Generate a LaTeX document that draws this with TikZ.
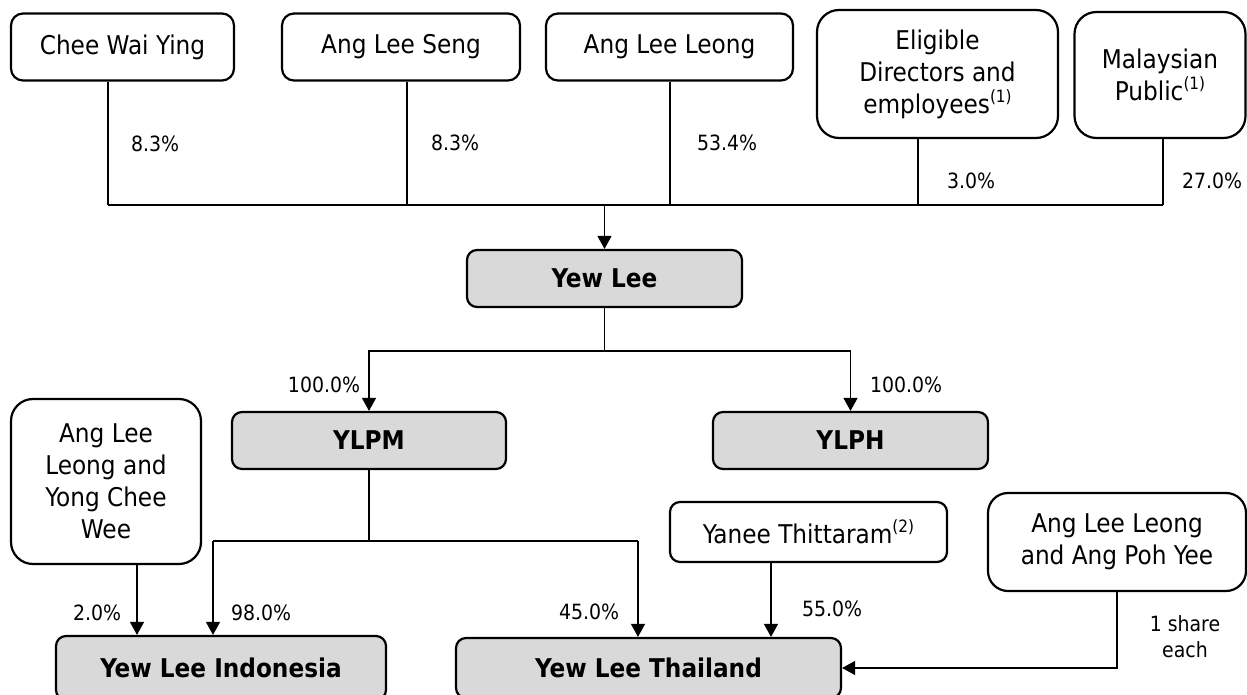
\documentclass[tikz,border=0pt]{standalone}
\usepackage{fontspec}
\setmainfont{DejaVu Sans Condensed}[BoldFont={DejaVu Sans Condensed Bold}]
\usetikzlibrary{arrows.meta}
\definecolor{boxgrey}{HTML}{D9D9D9}
\newcommand\supnote[1]{\raisebox{0.42em}{\fontsize{17}{17}\selectfont(#1)}}
\tikzset{
  namebox/.style={draw, line width=2.2pt, rounded corners=#1, align=center, inner sep=0pt,
    font=\fontsize{25.8}{32}\selectfont},
  namebox/.default=12pt,
  entbox/.style={draw, fill=boxgrey, line width=2.2pt, rounded corners=10pt, inner sep=0pt,
    font=\bfseries\fontsize{25.8}{32}\selectfont},
  conn/.style={line width=1.3pt},
  arr/.style={conn, -{Triangle[length=13pt,width=14pt]}},
  pct/.style={inner sep=0pt, align=center, font=\fontsize{21}{26}\selectfont},
}
\begin{document}
\begin{tikzpicture}[x=1pt,y=-1pt]
\useasboundingbox (0,0) rectangle (1247,695);

% top shareholders
\node[namebox, minimum width=223pt, minimum height=67pt] (cwy) at (122.5,47) {Chee Wai Ying};
\node[namebox, minimum width=238pt, minimum height=67pt] (als) at (401,47) {Ang Lee Seng};
\node[namebox, minimum width=247pt, minimum height=67pt] (all) at (669.5,47) {Ang Lee Leong};
\node[namebox=22pt, minimum width=241pt, minimum height=128pt] (edp) at (937.5,74) {Eligible\\Directors and\\employees\supnote{1}};
\node[namebox=22pt, minimum width=171pt, minimum height=126pt] (mp) at (1160,75) {Malaysian\\Public\supnote{1}};

% entities
\node[entbox, minimum width=275pt, minimum height=57pt] (yl) at (604.5,278.5) {Yew Lee};
\node[entbox, minimum width=274pt, minimum height=57pt] (ylpm) at (369,440.5) {YLPM};
\node[entbox, minimum width=275pt, minimum height=57pt] (ylph) at (850.5,440.5) {YLPH};
\node[entbox, minimum width=330pt, minimum height=64pt] (yli) at (221,668) {Yew Lee Indonesia};
\node[entbox, minimum width=385pt, minimum height=60pt] (ylt) at (648.5,668) {Yew Lee Thailand};

% lower shareholders
\node[namebox=22pt, minimum width=190pt, minimum height=165pt] (alyc) at (106,481.5) {Ang Lee\\Leong and\\Yong Chee\\Wee};
\node[namebox=10pt, minimum width=277pt, minimum height=60pt] (yt) at (808.5,532) {Yanee Thittaram\supnote{2}};
\node[namebox=20pt, minimum width=258pt, minimum height=98pt] (alpy) at (1117,542) {Ang Lee Leong\\and Ang Poh Yee};

% bus to Yew Lee
\coordinate (b1) at (108,205);
\coordinate (b2) at (407,205);
\coordinate (b3) at (670,205);
\coordinate (b4) at (918,205);
\coordinate (b5) at (1163,205);
\draw[conn] (cwy.south -| b1) -- (b1);
\draw[conn] (als.south -| b2) -- (b2);
\draw[conn] (all.south -| b3) -- (b3);
\draw[conn] (edp.south -| b4) -- (b4);
\draw[conn] (mp.south -| b5) -- (b5);
\draw[conn] (b1) -- (b5);
\draw[arr] (yl.north |- b1) -- (yl.north);

% Yew Lee to subsidiaries
\coordinate (j1) at (604.5,351);
\draw[conn] (yl.south) -- (j1);
\draw[arr] (j1) -| (ylpm.north);
\draw[arr] (j1) -| (ylph.north);

% YLPM to Indonesia / Thailand
\coordinate (j2) at (369,541);
\coordinate (ji) at (213,541);
\coordinate (jt) at (638,541);
\draw[conn] (ylpm.south) -- (j2);
\draw[conn] (ji) -- (jt);
\draw[arr] (ji) -- (yli.north -| ji);
\draw[arr] (jt) -- (ylt.north -| jt);

% minority holders
\coordinate (xa) at (137,0);
\coordinate (xy) at (771,0);
\draw[arr] (alyc.south -| xa) -- (yli.north -| xa);
\draw[arr] (yt.south -| xy) -- (ylt.north -| xy);
\draw[arr] (alpy.south) |- (ylt.east);

% labels
\node[pct] (p1) at (155,144) {8.3\%};
\node[pct] (p2) at (455,143) {8.3\%};
\node[pct] (p3) at (727,143) {53.4\%};
\node[pct] (p4) at (971,181) {3.0\%};
\node[pct] (p5) at (1212,181) {27.0\%};
\node[pct] (p6) at (324,385) {100.0\%};
\node[pct] (p7) at (906,385) {100.0\%};
\node[pct] (p8) at (97,613) {2.0\%};
\node[pct] (p9) at (261,613) {98.0\%};
\node[pct] (p10) at (589,612) {45.0\%};
\node[pct] (p11) at (832,609) {55.0\%};
\node[pct] (p12) at (1185,637) {1 share\\each};
\end{tikzpicture}
\end{document}
